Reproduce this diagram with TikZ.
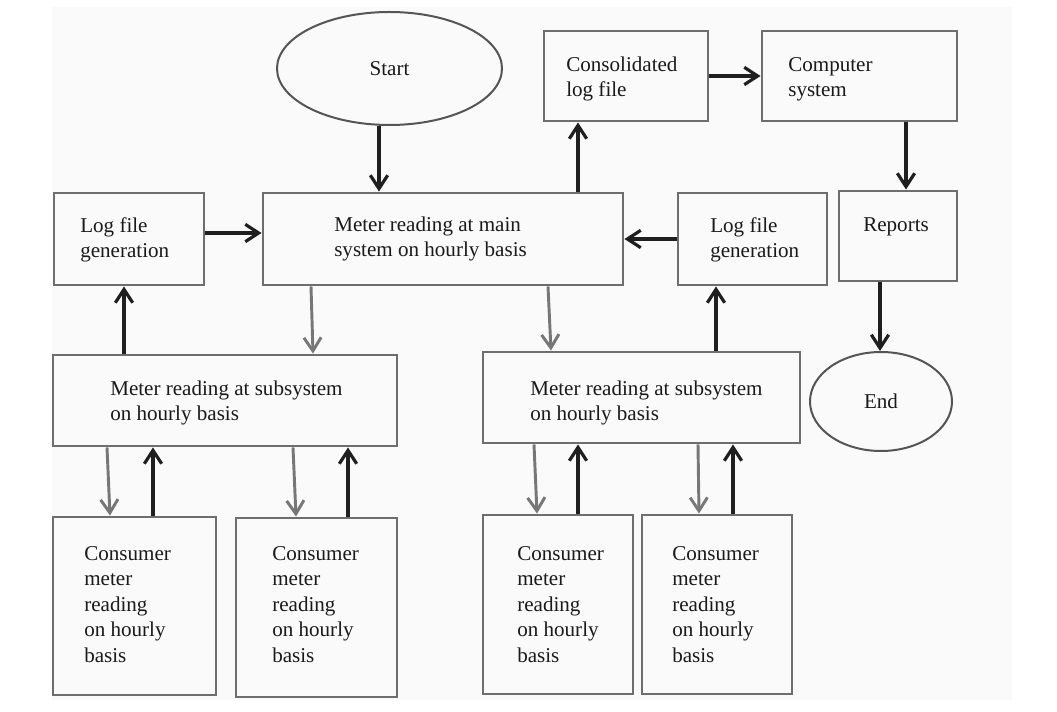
\documentclass[tikz,border=0pt]{standalone}
\usepackage{fontspec}
\setmainfont{Liberation Serif}
\usetikzlibrary{arrows.meta,calc,shapes.geometric}
\definecolor{boxgray}{HTML}{6E6E6E}
\definecolor{ovalgray}{HTML}{555555}
\definecolor{arrowdark}{HTML}{1F1F1F}
\definecolor{arrowgray}{HTML}{777777}
\definecolor{bgpaper}{HTML}{FAFAFA}
\definecolor{inkcol}{HTML}{1A1A1A}
\begin{document}
\begin{tikzpicture}[x=0.75pt,y=-0.75pt,
  lblfont/.style={font=\fontsize{15.8}{19.1}\selectfont, text=inkcol},
  box/.style={draw=boxgray, line width=2.2pt, inner sep=0pt},
  oval/.style={ellipse, draw=ovalgray, line width=1.5pt, inner sep=0pt, lblfont},
  % labels are placed by the baseline of their last line
  txt/.style={align=left, inner sep=0pt, anchor=base west, lblfont},
  tip/.style={-{Straight Barb[length=10pt,width=13pt]}},
  blk/.style={draw=arrowdark, line width=2.4pt, tip},
  gry/.style={draw=arrowgray, line width=2.2pt, tip}]

\useasboundingbox (0,0) rectangle (1057,712);
\fill[bgpaper] (52,7) rectangle (1012,700);

% terminals
\node[oval, minimum width=168.75pt, minimum height=84.75pt] (start) at (389.5,68.5) {Start};
\node[oval, minimum width=106.5pt, minimum height=74.25pt] (endn) at (881,401.5) {End};

% upper row of process boxes
\node[box, minimum width=112.5pt, minimum height=69pt] (logL) at (129,239) {};
\node[txt] (logLt) at ($(logL.north west)+(27.5,66)$) {Log file\\generation};

\node[box, minimum width=270pt, minimum height=69pt] (main) at (443,239) {};
\node[txt] (maint) at ($(main.north west)+(72.5,65)$) {Meter reading at main\\system on hourly basis};

\node[box, minimum width=123pt, minimum height=67.5pt] (cons) at (626,76) {};
\node[txt] (const) at ($(cons.north west)+(23.5,67)$) {Consolidated\\log file};

\node[box, minimum width=146.25pt, minimum height=67.5pt] (comp) at (859.5,76) {};
\node[txt] (compt) at ($(comp.north west)+(27.5,67)$) {Computer\\system};

\node[box, minimum width=111.75pt, minimum height=69pt] (logR) at (752.5,239) {};
\node[txt] (logRt) at ($(logR.north west)+(33.5,66)$) {Log file\\generation};

\node[box, minimum width=88.5pt, minimum height=67.5pt] (reports) at (898,236) {};
\node[txt] (reportst) at ($(reports.north west)+(25.5,41.5)$) {Reports};

% subsystem meters
\node[box, minimum width=258pt, minimum height=68.25pt] (sub1) at (225,400.5) {};
\node[txt] (sub1t) at ($(sub1.north west)+(58.5,67)$) {Meter reading at subsystem\\on hourly basis};

\node[box, minimum width=237.75pt, minimum height=68.25pt] (sub2) at (641.5,397.5) {};
\node[txt] (sub2t) at ($(sub2.north west)+(48.5,70)$) {Meter reading at subsystem\\on hourly basis};

% consumer meters
\node[box, minimum width=122.25pt, minimum height=133.5pt] (c1) at (134.5,606) {};
\node[txt] (c1t) at ($(c1.north west)+(32.5,146.5)$) {Consumer\\meter\\reading\\on hourly\\basis};

\node[box, minimum width=120.75pt, minimum height=134.25pt] (c2) at (316.5,607.5) {};
\node[txt] (c2t) at ($(c2.north west)+(37.5,145.5)$) {Consumer\\meter\\reading\\on hourly\\basis};

\node[box, minimum width=112.5pt, minimum height=134.25pt] (c3) at (558,604.5) {};
\node[txt] (c3t) at ($(c3.north west)+(35.5,148.5)$) {Consumer\\meter\\reading\\on hourly\\basis};

\node[box, minimum width=112.5pt, minimum height=134.25pt] (c4) at (717,604.5) {};
\node[txt] (c4t) at ($(c4.north west)+(31.5,148.5)$) {Consumer\\meter\\reading\\on hourly\\basis};

% main flow
\draw[blk] ($(start.south)+(-10.5,0)$) -- ($(main.north)+(-64,0)$);
\draw[blk] ($(logL.east)+(0,-6)$) -- ($(main.west)+(0,-6)$);
\draw[blk] (logR.west) -- (main.east);
\draw[blk] ($(main.north)+(135,0)$) -- ($(cons.south)+(-48,0)$);
\draw[blk] (cons.east) -- (comp.west);
\draw[blk] ($(comp.south)+(46.5,0)$) -- ($(reports.north)+(8,0)$);
\draw[blk] ($(reports.south)+(-18,0)$) -- ($(endn.north)+(-1,0)$);

% main system to subsystems and back through log files
\draw[gry] ($(main.south)+(-132,0)$) -- ($(sub1.north)+(88,0)$);
\draw[blk] ($(sub1.north)+(-101,0)$) -- ($(logL.south)+(-5,0)$);
\draw[gry] ($(main.south)+(105,0)$) -- ($(sub2.north)+(-90.5,0)$);
\draw[blk] ($(sub2.north)+(74.5,0)$) -- ($(logR.south)+(-36.5,0)$);

% subsystems to consumers and back
\draw[gry] ($(sub1.south)+(-118,0)$) -- ($(c1.north)+(-24.5,0)$);
\draw[blk] ($(c1.north)+(18.5,0)$) -- ($(sub1.south)+(-72,0)$);
\draw[gry] ($(sub1.south)+(68,0)$) -- ($(c2.north)+(-20.5,0)$);
\draw[blk] ($(c2.north)+(31.5,0)$) -- ($(sub1.south)+(123,0)$);

\draw[gry] ($(sub2.south)+(-107.5,0)$) -- ($(c3.north)+(-21,0)$);
\draw[blk] ($(c3.north)+(20,0)$) -- ($(sub2.south)+(-63.5,0)$);
\draw[gry] ($(sub2.south)+(56.5,0)$) -- ($(c4.north)+(-18,0)$);
\draw[blk] ($(c4.north)+(16,0)$) -- ($(sub2.south)+(91.5,0)$);
\end{tikzpicture}
\end{document}
